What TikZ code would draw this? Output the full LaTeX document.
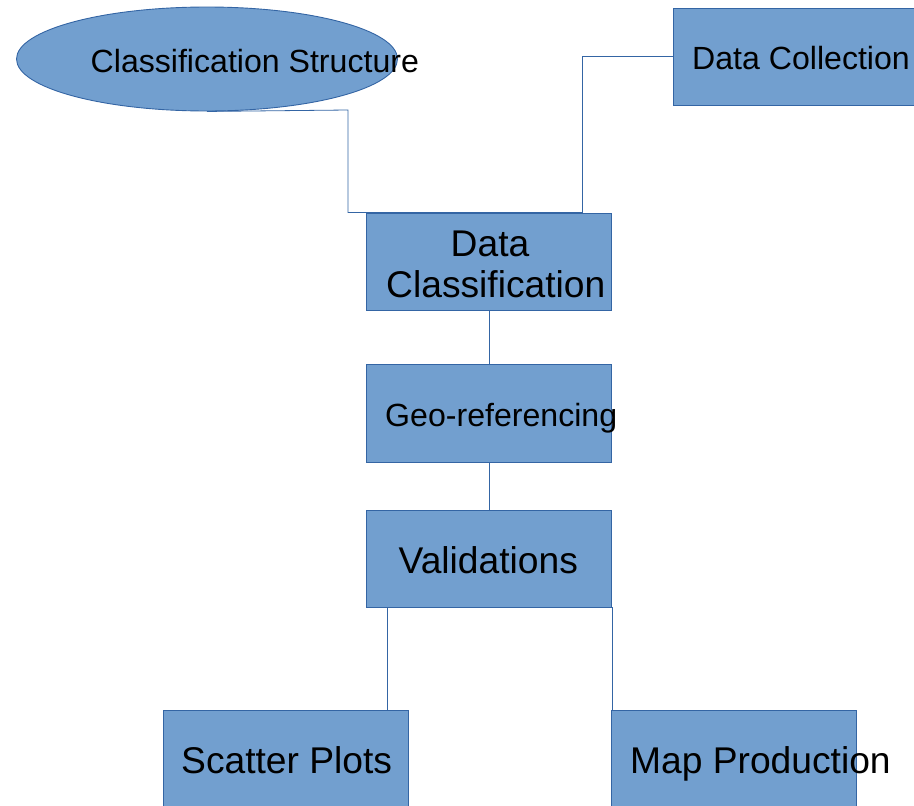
\documentclass[tikz,border=0pt]{standalone}
\usepackage{fontspec}
\setmainfont{Liberation Sans}
\usetikzlibrary{shapes.geometric}
\definecolor{boxfill}{HTML}{729FCF}
\definecolor{boxline}{HTML}{3465A4}
\begin{document}
\begin{tikzpicture}[x=1pt,y=-1pt,
  stepbox/.style={draw=boxline,fill=boxfill,line width=0.9pt,inner sep=0pt,
    minimum width=245pt,minimum height=97pt},
  ovalbox/.style={ellipse,draw=boxline,fill=boxfill,line width=0.9pt,inner sep=0pt,
    minimum width=381pt,minimum height=104pt},
  small/.style={inner sep=0pt,anchor=base west,font=\fontsize{32.1}{36}\selectfont},
  big/.style={inner sep=0pt,anchor=base west,font=\fontsize{37.2}{40}\selectfont},
  link/.style={draw=boxline,line width=0.8pt}]
\useasboundingbox (0,0) rectangle (914,806);
% shapes
\node[ovalbox] (cs) at (207,59) {};
\node[stepbox] (col) at (795.5,56.5) {};
\node[stepbox] (dc) at (489,261.5) {};
\node[stepbox,minimum height=98pt] (geo) at (489,413) {};
\node[stepbox] (val) at (489,558.5) {};
\node[stepbox] (sp) at (285.5,758.5) {};
\node[stepbox] (mp) at (733.5,758.5) {};
% connectors
\coordinate (j1) at (348,110);
\coordinate (j2) at (582,56.5);
\draw[link] (cs.south) -- (j1) |- (dc.north);
\draw[link] (col.west) -- (j2) |- (dc.north);
\draw[link] (dc.south) -- (geo.north);
\draw[link] (geo.south) -- (val.north);
\draw[link] ([xshift=21pt]val.south west) -- ([xshift=21pt]val.south west |- sp.north);
\draw[link] (val.south east) -- (val.south east |- mp.north);
% texts
\node[small] (tcs) at (90.5,72) {Classification Structure};
\node[small] (tcol) at (692,69) {Data Collection};
\node[big,anchor=base] (tdc1) at (490,256) {Data};
\node[big] (tdc2) at (386,297) {Classification};
\node[small] (tgeo) at (385,426) {Geo-referencing};
\node[big] (tval) at (398.5,573) {Validations};
\node[big] (tsp) at (181,773) {Scatter Plots};
\node[big] (tmp) at (630,773) {Map Production};
\end{tikzpicture}
\end{document}
